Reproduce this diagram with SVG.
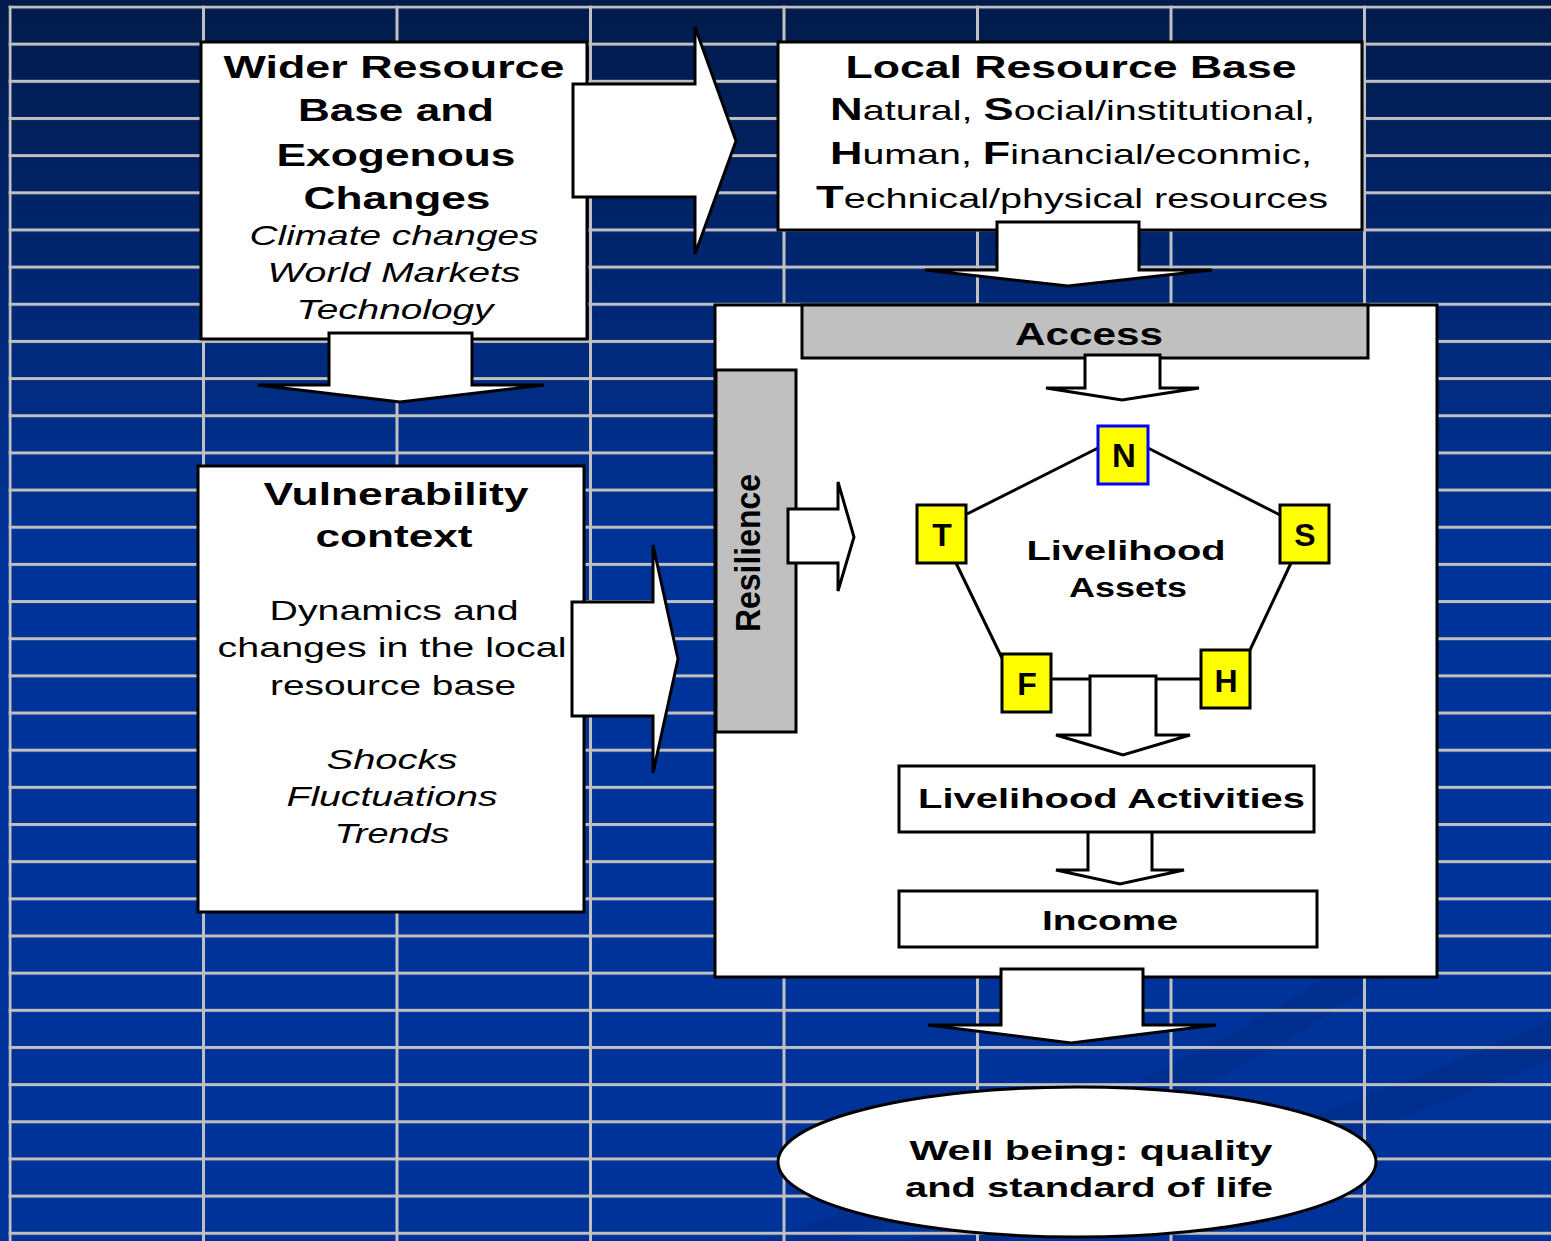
<svg xmlns="http://www.w3.org/2000/svg" width="1551" height="1241" viewBox="0 0 1551 1241">
<defs>
<linearGradient id="bg" x1="0" y1="0" x2="0" y2="1241" gradientUnits="userSpaceOnUse">
<stop offset="0" stop-color="#011a4a"/>
<stop offset="0.45" stop-color="#003399"/>
<stop offset="1" stop-color="#003399"/>
</linearGradient>
<pattern id="grid" x="8.5" y="5.5" width="193.5" height="37.16" patternUnits="userSpaceOnUse">
<rect x="0" y="0" width="3" height="37.16" fill="#c0c0c0"/>
<rect x="0" y="0" width="193.5" height="3" fill="#c0c0c0"/>
</pattern>
<style>
text{font-family:"Liberation Sans",Arial,sans-serif;fill:#000}
.b{font-weight:bold}
.i{font-style:italic}
.box{fill:#fff;stroke:#000;stroke-width:3}
.gray{fill:#c0c0c0;stroke:#000;stroke-width:3}
.sq{fill:#ffff00;stroke:#000;stroke-width:3}
.arr{fill:#fff;stroke:#000;stroke-width:3;stroke-linejoin:miter}
.ln{stroke:#000;stroke-width:3;fill:none}
</style>
</defs>
<rect width="1551" height="1241" fill="url(#bg)"/>
<path d="M1551 1020 C1400 1090 1150 1180 900 1241 L1000 1241 C1250 1180 1450 1100 1551 1060 Z" fill="#002c85" opacity="0.6"/>
<path d="M1390 930 C1300 1010 1000 1160 760 1241 L840 1241 C1080 1160 1330 1030 1400 960 Z" fill="#002c85" opacity="0.5"/>
<rect x="8.5" y="5.5" width="1543" height="1236" fill="url(#grid)"/>

<g id="wider">
<rect class="box" x="201" y="42" width="386" height="297"/>
<text class="b" font-size="32" x="394" y="78" text-anchor="middle" textLength="341" lengthAdjust="spacingAndGlyphs">Wider Resource</text>
<text class="b" font-size="32" x="396" y="121" text-anchor="middle" textLength="196" lengthAdjust="spacingAndGlyphs">Base and</text>
<text class="b" font-size="32" x="396" y="166" text-anchor="middle" textLength="239" lengthAdjust="spacingAndGlyphs">Exogenous</text>
<text class="b" font-size="32" x="397" y="209" text-anchor="middle" textLength="187" lengthAdjust="spacingAndGlyphs">Changes</text>
<text class="i" font-size="28" x="394" y="245" text-anchor="middle" textLength="289" lengthAdjust="spacingAndGlyphs">Climate changes</text>
<text class="i" font-size="28" x="394" y="282" text-anchor="middle" textLength="253" lengthAdjust="spacingAndGlyphs">World Markets</text>
<text class="i" font-size="28" x="395" y="319" text-anchor="middle" textLength="197" lengthAdjust="spacingAndGlyphs">Technology</text>
</g>

<g id="local">
<rect class="box" x="778" y="42" width="584" height="188"/>
<text class="b" font-size="32" x="1071" y="78" text-anchor="middle" textLength="451" lengthAdjust="spacingAndGlyphs">Local Resource Base</text>
<text font-size="28" x="830" y="120" textLength="485" lengthAdjust="spacingAndGlyphs"><tspan class="b" font-size="32">N</tspan>atural, <tspan class="b" font-size="32">S</tspan>ocial/institutional,</text>
<text font-size="28" x="830" y="164" textLength="482" lengthAdjust="spacingAndGlyphs"><tspan class="b" font-size="32">H</tspan>uman, <tspan class="b" font-size="32">F</tspan>inancial/econmic,</text>
<text font-size="28" x="816" y="208" textLength="512" lengthAdjust="spacingAndGlyphs"><tspan class="b" font-size="32">T</tspan>echnical/physical resources</text>
</g>

<g id="vulnerability">
<rect class="box" x="198" y="466" width="386" height="446"/>
<text class="b" font-size="32" x="396" y="505" text-anchor="middle" textLength="265" lengthAdjust="spacingAndGlyphs">Vulnerability</text>
<text class="b" font-size="32" x="394" y="547" text-anchor="middle" textLength="157" lengthAdjust="spacingAndGlyphs">context</text>
<text font-size="28" x="394" y="620" text-anchor="middle" textLength="249" lengthAdjust="spacingAndGlyphs">Dynamics and</text>
<text font-size="28" x="392" y="657" text-anchor="middle" textLength="349" lengthAdjust="spacingAndGlyphs">changes in the local</text>
<text font-size="28" x="393" y="695" text-anchor="middle" textLength="246" lengthAdjust="spacingAndGlyphs">resource base</text>
<text class="i" font-size="28" x="392" y="769" text-anchor="middle" textLength="131" lengthAdjust="spacingAndGlyphs">Shocks</text>
<text class="i" font-size="28" x="392" y="806" text-anchor="middle" textLength="211" lengthAdjust="spacingAndGlyphs">Fluctuations</text>
<text class="i" font-size="28" x="392" y="843" text-anchor="middle" textLength="115" lengthAdjust="spacingAndGlyphs">Trends</text>
</g>

<g id="container">
<rect class="box" x="715" y="305" width="722" height="672"/>
</g>

<g id="access">
<rect class="gray" x="802" y="305" width="566" height="53"/>
<text class="b" font-size="32" x="1089" y="345" text-anchor="middle" textLength="148" lengthAdjust="spacingAndGlyphs">Access</text>
</g>

<g id="resilience">
<rect class="gray" x="716" y="370" width="80" height="362"/>
<text class="b" font-size="35" transform="translate(760 632) rotate(-90)" textLength="158" lengthAdjust="spacingAndGlyphs">Resilience</text>
</g>

<g id="assets-label">
<text class="b" font-size="28" x="1126" y="560" text-anchor="middle" textLength="199" lengthAdjust="spacingAndGlyphs">Livelihood</text>
<text class="b" font-size="28" x="1128" y="597" text-anchor="middle" textLength="118" lengthAdjust="spacingAndGlyphs">Assets</text>
</g>

<g id="connectors">
<line class="ln" x1="1098" y1="448" x2="967" y2="514"/>
<line class="ln" x1="1148" y1="448" x2="1280" y2="515"/>
<line class="ln" x1="956" y1="563" x2="1002" y2="658"/>
<line class="ln" x1="1291" y1="563" x2="1250" y2="650"/>
<line class="ln" x1="1052" y1="679" x2="1201" y2="679"/>
<polygon class="arr" points="573,84 695,84 695,27 736,141 695,254 695,197 573,197"/>
<polygon class="arr" points="329,333 472,333 472,385 544,385 400,402 258,385 329,385"/>
<polygon class="arr" points="997,222 1139,222 1139,270 1212,270 1068,286 925,270 997,270"/>
<polygon class="arr" points="572,602 653,602 653,545 678,659 653,773 653,716 572,716"/>
<polygon class="arr" points="1085,355 1160,355 1160,388 1199,388 1122,400 1046,388 1085,388"/>
<polygon class="arr" points="788,509 838,509 838,482 854,537 838,591 838,563 788,563"/>
<polygon class="arr" points="1090,676 1156,676 1156,735 1190,735 1123,755 1056,735 1090,735"/>
<polygon class="arr" points="1088,830 1152,830 1152,870 1184,870 1120,884 1056,870 1088,870"/>
<polygon class="arr" points="1001,969 1143,969 1143,1025 1216,1025 1071,1043 928,1025 1001,1025"/>
</g>

<g id="N">
<rect x="1098" y="426" width="50" height="58" fill="#ffff00" stroke="#0000ff" stroke-width="3"/>
<text class="b" font-size="33" x="1124" y="467" text-anchor="middle">N</text>
</g>
<g id="T">
<rect class="sq" x="917" y="505" width="49" height="58"/>
<text class="b" font-size="32" x="942" y="546" text-anchor="middle">T</text>
</g>
<g id="S">
<rect class="sq" x="1280" y="505" width="49" height="58"/>
<text class="b" font-size="32" x="1305" y="546" text-anchor="middle">S</text>
</g>
<g id="F">
<rect class="sq" x="1002" y="654" width="49" height="58"/>
<text class="b" font-size="32" x="1027" y="695" text-anchor="middle">F</text>
</g>
<g id="H">
<rect class="sq" x="1201" y="650" width="49" height="58"/>
<text class="b" font-size="32" x="1226" y="692" text-anchor="middle">H</text>
</g>

<g id="activities">
<rect class="box" x="899" y="766" width="415" height="66"/>
<text class="b" font-size="28" x="918" y="808" textLength="387" lengthAdjust="spacingAndGlyphs">Livelihood Activities</text>
</g>

<g id="income">
<rect class="box" x="899" y="891" width="418" height="56"/>
<text class="b" font-size="28" x="1110" y="930" text-anchor="middle" textLength="136" lengthAdjust="spacingAndGlyphs">Income</text>
</g>

<g id="wellbeing">
<ellipse cx="1077" cy="1162" rx="299" ry="75" fill="#fff" stroke="#000" stroke-width="3"/>
<text class="b" font-size="28" x="1091" y="1160" text-anchor="middle" textLength="363" lengthAdjust="spacingAndGlyphs">Well being: quality</text>
<text class="b" font-size="28" x="1089" y="1197" text-anchor="middle" textLength="368" lengthAdjust="spacingAndGlyphs">and standard of life</text>
</g>
</svg>
